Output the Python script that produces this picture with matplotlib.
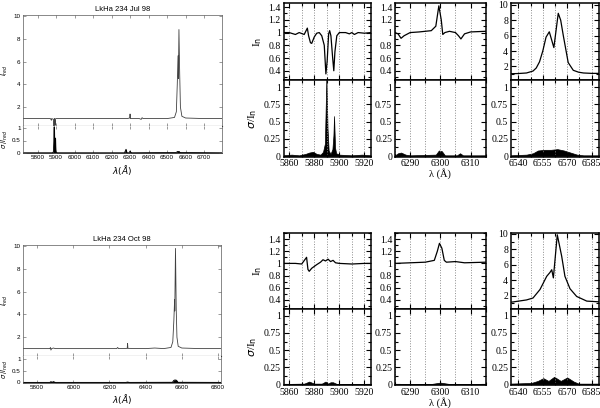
import numpy as np
import matplotlib.pyplot as plt
from matplotlib.ticker import MultipleLocator, FixedLocator

W, H = 600, 408

# ---- overview spectra (left column) ----
jul_wl = [5720, 5760, 5800, 5840, 5870, 5875, 5877, 5880, 5886, 5889, 5890, 5892, 5895,
          5896, 5898, 5950, 6000, 6100, 6200, 6270, 6280, 6285, 6298, 6300, 6302, 6350,
          6360, 6365, 6370, 6450, 6500, 6540, 6550, 6555, 6559, 6561, 6564, 6568, 6572,
          6580, 6600, 6700, 6800]
jul_int = [1.0, 1.0, 1.0, 1.0, 1.0, 0.85, 1.0, 0.97, 0.95, 0.35, 0.6, 1.0, 0.5,
           0.42, 1.0, 1.0, 1.0, 1.0, 1.0, 1.0, 1.0, 1.0, 1.05, 1.4, 1.0, 1.0,
           0.93, 1.08, 1.0, 1.0, 1.0, 1.1, 1.6, 4.0, 6.5, 4.5, 8.8, 5.0, 2.0,
           1.2, 1.05, 1.0, 1.0]
jul_sig_wl = [5720, 5880, 5886, 5888, 5890, 5891.5, 5894, 5896, 5898, 5905, 6270, 6278,
              6282, 6295, 6300, 6305, 6550, 6555, 6565, 6570, 6800]
jul_sig = [0.01, 0.01, 0.05, 0.5, 1.05, 0.4, 0.1, 0.6, 0.05, 0.01, 0.01, 0.15,
           0.01, 0.01, 0.08, 0.01, 0.02, 0.06, 0.06, 0.02, 0.01]

oct_wl = [5720, 5800, 5870, 5874, 5876, 5880, 5890, 5900, 6000, 6100, 6200, 6240, 6245,
          6250, 6298, 6300, 6302, 6400, 6450, 6500, 6540, 6550, 6556, 6560, 6561, 6565,
          6569, 6573, 6580, 6600, 6700, 6815]
oct_int = [1.0, 1.0, 1.0, 1.1, 0.87, 1.0, 1.05, 1.0, 1.0, 1.0, 1.0, 1.0, 1.1,
           1.0, 1.02, 1.45, 1.02, 1.0, 1.05, 1.0, 1.1, 1.6, 3.5, 5.3, 4.3, 9.8,
           4.5, 2.0, 1.2, 1.05, 1.0, 1.0]
oct_sig_wl = [5720, 5870, 5876, 5882, 5890, 5900, 6290, 6300, 6310, 6548, 6555, 6562,
              6570, 6578, 6815]
oct_sig = [0.005, 0.005, 0.04, 0.01, 0.04, 0.005, 0.005, 0.02, 0.005, 0.01, 0.09,
           0.11, 0.1, 0.01, 0.005]

# ---- zoomed profiles, Jul 98 ----
na_jul_wl = [5855, 5860, 5865, 5868, 5872, 5874.5, 5875.5, 5877, 5878, 5880, 5882, 5884,
             5886, 5888, 5889.3, 5890.3, 5891.5, 5892.3, 5893.3, 5894.7, 5895.6, 5896.5,
             5898, 5900, 5905, 5908, 5910, 5912, 5915, 5920, 5925]
na_jul_i = [1.0, 1.0, 0.97, 1.0, 0.97, 1.07, 0.95, 0.84, 0.83, 0.93, 0.99, 1.0,
            0.95, 0.8, 0.35, 0.55, 0.98, 1.03, 0.95, 0.6, 0.4, 0.7,
            0.95, 1.0, 1.0, 0.98, 1.0, 0.97, 1.0, 0.99, 1.0]
na_jul_sw = [5855, 5862, 5868, 5873, 5876, 5879, 5882, 5885, 5887, 5888.5, 5889.7, 5890.6,
             5891.5, 5893, 5894.5, 5895.3, 5895.8, 5896.6, 5897.5, 5900, 5910, 5918, 5925]
na_jul_s = [0.01, 0.02, 0.01, 0.03, 0.05, 0.06, 0.03, 0.02, 0.06, 0.18, 1.15, 0.4,
            0.08, 0.03, 0.1, 0.3, 0.58, 0.12, 0.04, 0.02, 0.01, 0.02, 0.01]

oi_jul_wl = [6285, 6286, 6287, 6288, 6290, 6293, 6295, 6297, 6298.5, 6299.5, 6300.3,
             6300.8, 6301.5, 6303, 6305, 6306, 6306.8, 6308, 6310, 6315]
oi_jul_i = [1.0, 0.98, 0.91, 0.95, 1.0, 1.01, 1.02, 1.03, 1.1, 1.42, 1.2,
            0.97, 1.0, 1.02, 1.0, 0.95, 0.9, 0.98, 1.01, 1.02]
oi_jul_sw = [6285, 6286, 6287, 6288.5, 6290, 6298.5, 6299.5, 6300.5, 6301.5, 6305.5,
             6306.5, 6307.5, 6315]
oi_jul_s = [0.01, 0.04, 0.05, 0.02, 0.01, 0.02, 0.08, 0.07, 0.01, 0.01, 0.04, 0.01, 0.01]

ha_jul_wl = [6535, 6540, 6545, 6549, 6551, 6553, 6555, 6557, 6559, 6561.8, 6564.5,
             6566, 6567.6, 6570.6, 6573.7, 6577, 6580, 6585, 6590]
ha_jul_i = [1.05, 1.08, 1.15, 1.4, 1.8, 2.6, 4.0, 5.8, 6.5, 4.45, 8.9,
            8.0, 6.0, 2.5, 1.5, 1.25, 1.15, 1.1, 1.1]
ha_jul_sw = [6535, 6545, 6549, 6552, 6556, 6560, 6564, 6568, 6572, 6576, 6580, 6590]
ha_jul_s = [0.01, 0.02, 0.04, 0.08, 0.09, 0.09, 0.1, 0.08, 0.05, 0.02, 0.01, 0.01]

# ---- zoomed profiles, Oct 98 ----
na_oct_wl = [5855, 5865, 5870, 5873.9, 5875, 5876, 5878, 5882, 5885, 5887, 5889, 5891,
             5893, 5895, 5897, 5900, 5910, 5920, 5925]
na_oct_i = [1.0, 1.0, 0.99, 1.1, 0.9, 0.87, 0.92, 0.98, 1.02, 1.06, 1.04, 1.07,
            1.03, 1.05, 1.01, 1.0, 0.99, 1.0, 1.0]
na_oct_sw = [5855, 5872, 5876, 5880, 5886, 5889, 5891, 5893, 5895, 5898, 5925]
na_oct_s = [0.005, 0.01, 0.04, 0.01, 0.01, 0.04, 0.01, 0.03, 0.03, 0.005, 0.005]

oi_oct_wl = [6285, 6290, 6295, 6298, 6299, 6299.7, 6300.5, 6301.3, 6302, 6305, 6308,
             6315]
oi_oct_i = [1.0, 1.01, 1.02, 1.05, 1.2, 1.33, 1.25, 1.05, 1.02, 1.03, 1.01, 1.02]
oi_oct_sw = [6285, 6297, 6300, 6303, 6315]
oi_oct_s = [0.005, 0.005, 0.025, 0.005, 0.005]

ha_oct_wl = [6535, 6537, 6545, 6549, 6553.3, 6557.4, 6559.4, 6560.5, 6561.5, 6563.9,
             6566.6, 6568.6, 6571.7, 6575.8, 6582, 6590]
ha_oct_i = [1.15, 1.2, 1.45, 1.7, 2.8, 4.5, 5.0, 5.35, 4.3, 9.87,
            7.1, 4.5, 2.9, 1.9, 1.3, 1.2]
ha_oct_sw = [6535, 6548, 6552, 6555.3, 6558.5, 6562, 6566, 6570, 6574, 6577, 6590]
ha_oct_s = [0.01, 0.02, 0.05, 0.09, 0.05, 0.11, 0.05, 0.1, 0.04, 0.01, 0.01]


def box(x0, y0, x1, y1):
    return [x0 / W, 1 - y1 / H, (x1 - x0) / W, (y1 - y0) / H]


fig = plt.figure(figsize=(6, 4.08), dpi=100)

sans = 'Liberation Sans'
serif = 'Liberation Serif'


def overview(ytop, ydiv, ybot, xr, title, wl, fl, sw, s, xt, slim):
    ax1 = fig.add_axes(box(22.7, ytop, xr, ydiv))
    ax2 = fig.add_axes(box(22.7, ydiv, xr, ybot))
    ax1.plot(wl, fl, color='0.25', lw=0.6)
    ax2.fill_between(sw, 0, s, color='k', lw=0.4)
    ax2.plot(sw, s, color='k', lw=0.6)
    for a in (ax1, ax2):
        a.set_xlim(xt[0], xt[1])
        a.xaxis.set_major_locator(MultipleLocator(xt[2]))
        a.tick_params(direction='in', top=True, right=True, labelsize=4.5,
                      length=2, width=0.4, pad=1.5, colors='0.3')
        for sp in a.spines.values():
            sp.set_linewidth(0.5)
            sp.set_color('0.35')
        for lab in a.get_xticklabels() + a.get_yticklabels():
            lab.set_family(sans)
            lab.set_color('k')
    ax1.spines['bottom'].set_color('k')
    ax1.spines['bottom'].set_linewidth(0.8)
    ax2.spines['top'].set_visible(False)
    ax1.set_ylim(0.35, 10.1)
    ax1.set_yticks([2, 4, 6, 8, 10])
    ax1.tick_params(labelbottom=False)
    ax2.set_ylim(0, slim)
    ax2.set_yticks([0, 0.5, 1])
    ax2.set_yticklabels(['0', '0.5', '1'])
    ax1.set_title(title, fontsize=5.5, family=sans, pad=3)
    ax1.set_ylabel(r'$I_{red}$', fontsize=4.8)
    ax2.set_ylabel(r'$\sigma\,/I_{red}$', fontsize=4.8)
    ax1.yaxis.set_label_coords(-0.062, 0.5)
    ax2.yaxis.set_label_coords(-0.062, 0.5)
    ax2.set_xlabel(r'$\lambda(\AA)$', fontsize=6.5, labelpad=2)


overview(14.7, 126, 153, 221.7, 'LkHa 234 Jul 98', jul_wl, jul_int, jul_sig_wl, jul_sig,
         (5720, 6795, 100), 1.08)
overview(245, 356, 382.5, 220.7, 'LkHa 234 Oct 98', oct_wl, oct_int, oct_sig_wl, oct_sig,
         (5720, 6815, 200), 1.14)


def zoom_col(x0, x1, ytop, ydiv, ybot, wl, fl, sw, s, xlim, major, minor, top, first):
    ax1 = fig.add_axes(box(x0, ytop, x1, ydiv))
    ax2 = fig.add_axes(box(x0, ydiv, x1, ybot))
    ax1.plot(wl, fl, color='k', lw=0.9)
    ax2.fill_between(sw, 0, s, color='k', lw=0.5)
    for a in (ax1, ax2):
        a.set_xlim(*xlim)
        a.xaxis.set_major_locator(MultipleLocator(major))
        a.xaxis.set_minor_locator(MultipleLocator(minor))
        a.grid(axis='x', which='both', color='0.55', ls=':', lw=0.7)
        a.tick_params(which='both', direction='in', top=True, right=True,
                      labelsize=7, width=0.8, pad=2)
        a.tick_params(which='major', length=3.5)
        a.tick_params(which='minor', length=2)
        for sp in a.spines.values():
            sp.set_linewidth(1.1)
        for lab in a.get_xticklabels() + a.get_yticklabels():
            lab.set_family(serif)
    ax1.tick_params(labelbottom=False)
    ax1.set_ylim(*top)
    if top[1] > 5:
        ax1.set_yticks([2, 4, 6, 8, 10])
        ax1.yaxis.set_minor_locator(MultipleLocator(1))
        ax1.set_yticklabels(['2', '4', '6', '8', '10'], family=serif)
    else:
        ax1.set_yticks([0.4, 0.6, 0.8, 1.0, 1.2, 1.4])
        ax1.yaxis.set_minor_locator(MultipleLocator(0.1))
        ax1.set_yticklabels(['0.4', '0.6', '0.8', '1', '1.2', '1.4'], family=serif)
    ax2.set_ylim(-0.01, 1.1)
    ax2.set_yticks([0, 0.25, 0.5, 0.75, 1])
    ax2.yaxis.set_minor_locator(MultipleLocator(0.125))
    ax2.set_yticklabels(['0', '0.25', '0.5', '0.75', '1'], family=serif)
    if first:
        ax1.set_ylabel(r'I$_{\rm n}$', family=serif, fontsize=8, labelpad=3)
        ax2.set_ylabel(r'$\sigma$/I$_{\rm n}$', family=serif, fontsize=8, labelpad=3)
    return ax2


rows = [
    (3.3, 80.3, 156.7, (0.25, 1.46), (0.2, 10.2),
     (na_jul_wl, na_jul_i, na_jul_sw, na_jul_s),
     (oi_jul_wl, oi_jul_i, oi_jul_sw, oi_jul_s),
     (ha_jul_wl, ha_jul_i, ha_jul_sw, ha_jul_s)),
    (233, 309, 385, (0.25, 1.5), (0.28, 10.1),
     (na_oct_wl, na_oct_i, na_oct_sw, na_oct_s),
     (oi_oct_wl, oi_oct_i, oi_oct_sw, oi_oct_s),
     (ha_oct_wl, ha_oct_i, ha_oct_sw, ha_oct_s)),
]

for ytop, ydiv, ybot, lim, hlim, na, oi, ha in rows:
    zoom_col(283.5, 371.3, ytop, ydiv, ybot, *na, (5855.5, 5925.5), 20, 10, lim, True)
    axm = zoom_col(395, 485.7, ytop, ydiv, ybot, *oi, (6285, 6315), 10, 5, lim, False)
    zoom_col(511, 599, ytop, ydiv, ybot, *ha, (6535.5, 6589.5), 15, 7.5, hlim, False)
    axm.set_xlabel('λ (Å)', family=serif, fontsize=7.5, labelpad=0)

fig.savefig('out.png', dpi=100)
